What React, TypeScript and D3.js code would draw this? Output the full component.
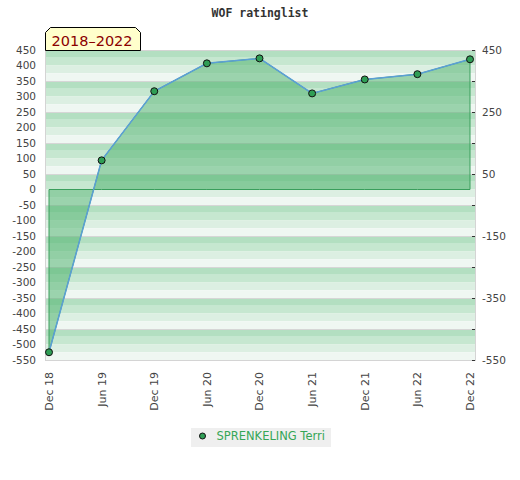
import { useMemo } from "react";
import { area as d3Area, line as d3Line, range, scaleLinear, scalePoint } from "d3";

const title = "WOF ratinglist";
const badgeText = "2018–2022";
const seriesName = "SPRENKELING Terri";
const periods = ["Dec 18", "Jun 19", "Dec 19", "Jun 20", "Dec 20", "Jun 21", "Dec 21", "Jun 22", "Dec 22"];
const ratings = [-525, 94, 317, 407, 423, 310, 355, 372, 420];
const leftTicks = range(450, -551, -50);
const rightTicks = range(450, -551, -100);
const rightLabels = [450, 250, 50, -150, -350, -550];
const bandShades = ["#b3dfc1", "#c6e7d0", "#dcefe2", "#eff7f2"];

const width = 520;
const height = 480;
const plot = { left: 45, right: 475, top: 50, bottom: 360 };
const font = "'DejaVu Sans', sans-serif";

export default function App() {
  const c = useMemo(() => {
    const x = scalePoint<string>().domain(periods).range([49, 470]);
    const y = scaleLinear().domain([-550, 450]).range([plot.bottom, plot.top]);
    const pts = periods.map((p, i) => ({ p, v: ratings[i] }));
    const areaPath =
      d3Area<{ p: string; v: number }>()
        .x((d) => x(d.p) ?? 0)
        .y0(() => y(0))
        .y1((d) => y(d.v))(pts) ?? "";
    const linePath =
      d3Line<{ p: string; v: number }>()
        .x((d) => x(d.p) ?? 0)
        .y((d) => y(d.v))(pts) ?? "";
    const bands = rightTicks.slice(0, -1).flatMap((t) =>
      bandShades.map((fill, k) => ({
        key: `${t}-${k}`,
        y0: y(t - 25 * k),
        y1: y(t - 25 * (k + 1)),
        fill,
      }))
    );
    return { x, y, pts, areaPath, linePath, bands };
  }, []);

  const { x, y, pts, areaPath, linePath, bands } = c;

  return (
    <div style={{ position: "absolute", left: 0, top: 0 }}>
      <svg width={width} height={height} style={{ display: "block" }}>
        <rect width={width} height={height} fill="#ffffff" />
        <text
          x={260}
          y={16.5}
          textAnchor="middle"
          fontFamily="'DejaVu Sans Mono', monospace"
          fontWeight="bold"
          fontSize={11.5}
          fill="#333"
        >
          {title}
        </text>

        {bands.map((b) => (
          <rect
            key={b.key}
            x={plot.left}
            y={b.y0}
            width={plot.right - plot.left}
            height={b.y1 - b.y0}
            fill={b.fill}
          />
        ))}
        {rightTicks.map((t) => (
          <line
            key={`sep-${t}`}
            x1={plot.left}
            x2={plot.right}
            y1={y(t) + 0.5}
            y2={y(t) + 0.5}
            stroke="#d6d6d6"
          />
        ))}
        <rect
          x={plot.left + 0.5}
          y={plot.top + 0.5}
          width={plot.right - plot.left}
          height={plot.bottom - plot.top}
          fill="none"
          stroke="#d4d4d4"
        />

        <path d={areaPath} fill="#48b068" fillOpacity={0.5} stroke="#3a9e5c" strokeWidth={1} />
        <path d={linePath} fill="none" stroke="#5b9fd6" strokeWidth={1.5} />
        {pts.map((d) => (
          <circle
            key={d.p}
            cx={x(d.p)}
            cy={y(d.v)}
            r={3.5}
            fill="#2f9e55"
            stroke="#111"
            strokeWidth={1}
          />
        ))}

        {leftTicks.map((t) => (
          <text
            key={`l-${t}`}
            x={36}
            y={y(t)}
            dy="0.36em"
            textAnchor="end"
            fontFamily={font}
            fontSize={10.5}
            fill="#444"
          >
            {t}
          </text>
        ))}

        {rightTicks.map((t) => (
          <line
            key={`rt-${t}`}
            x1={plot.right - 3}
            x2={plot.right}
            y1={y(t) + 0.5}
            y2={y(t) + 0.5}
            stroke="#333"
          />
        ))}
        {rightLabels.map((t) => (
          <text
            key={`r-${t}`}
            x={482}
            y={y(t)}
            dy="0.36em"
            fontFamily={font}
            fontSize={10.5}
            fill="#444"
          >
            {t}
          </text>
        ))}

        {periods.map((p) => (
          <text
            key={`x-${p}`}
            transform={`translate(${x(p)}, 372) rotate(-90)`}
            dy="0.36em"
            textAnchor="end"
            fontFamily={font}
            fontSize={11}
            fill="#444"
          >
            {p}
          </text>
        ))}

        <path
          d="M45.5,50.5 L45.5,32.5 L50.5,27.5 L135.5,27.5 L140.5,32.5 L140.5,50.5 Z"
          fill="#ffffcc"
          stroke="#000"
          strokeWidth={1}
        />
        <text x={51.5} y={45.7} fontFamily={font} fontSize={14.5} fill="#8b0000">
          {badgeText}
        </text>

        <rect x={191} y={428} width={140} height={19} fill="#efefef" />
        <circle cx={202.5} cy={436} r={3} fill="#2f9e55" stroke="#111" strokeWidth={1} />
        <text x={216.5} y={440.2} fontFamily={font} fontSize={11.5} fill="#35a656">
          {seriesName}
        </text>
      </svg>
    </div>
  );
}
